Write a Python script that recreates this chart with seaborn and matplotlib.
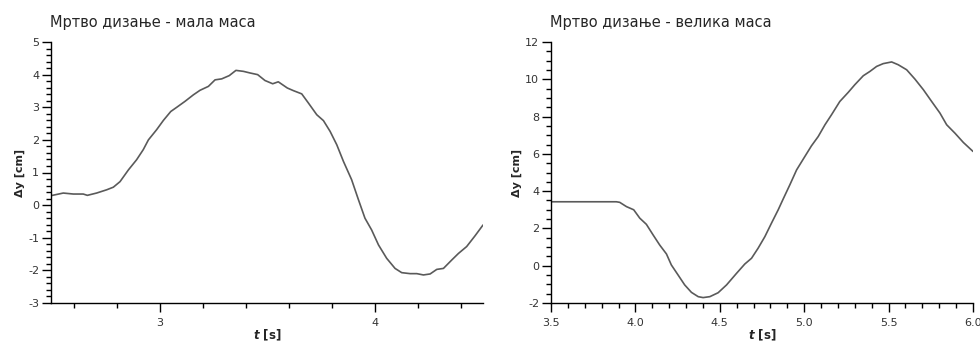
import matplotlib
matplotlib.use("Agg")
import matplotlib.pyplot as plt
import seaborn as sns
import pandas as pd
from matplotlib.ticker import MultipleLocator, FormatStrFormatter

sns.set_theme(style="ticks")
plt.rcParams['font.family'] = ['DejaVu Sans']
plt.rcParams['axes.unicode_minus'] = False

# Left panel: small mass
t_small = [2.493, 2.55, 2.597, 2.643, 2.662, 2.705, 2.752, 2.783, 2.814, 2.853, 2.891, 2.922,
           2.946, 2.984, 3.016, 3.05, 3.078, 3.116, 3.155, 3.186, 3.225, 3.256, 3.287, 3.322,
           3.353, 3.388, 3.419, 3.454, 3.488, 3.524, 3.55, 3.592, 3.62, 3.659, 3.69, 3.729,
           3.76, 3.791, 3.822, 3.853, 3.891, 3.922, 3.953, 3.984, 4.016, 4.054, 4.093, 4.124,
           4.163, 4.194, 4.225, 4.256, 4.287, 4.318, 4.357, 4.388, 4.426, 4.465, 4.502]
dy_small = [0.29, 0.37, 0.34, 0.34, 0.30, 0.37, 0.47, 0.55, 0.72, 1.08, 1.39, 1.70,
            2.00, 2.31, 2.60, 2.87, 3.00, 3.18, 3.38, 3.52, 3.64, 3.84, 3.87, 3.97,
            4.13, 4.10, 4.05, 4.00, 3.82, 3.72, 3.78, 3.59, 3.51, 3.41, 3.13, 2.77,
            2.59, 2.26, 1.85, 1.34, 0.78, 0.18, -0.40, -0.76, -1.22, -1.63, -1.94, -2.07,
            -2.10, -2.10, -2.14, -2.11, -1.97, -1.94, -1.68, -1.48, -1.27, -0.94, -0.61]

# Right panel: large mass
t_large = [3.5, 3.7, 3.887, 3.907, 3.947, 3.99, 4.026, 4.065, 4.105, 4.144, 4.184, 4.213,
           4.253, 4.292, 4.332, 4.372, 4.401, 4.441, 4.49, 4.54, 4.599, 4.648, 4.688, 4.727,
           4.767, 4.806, 4.846, 4.875, 4.915, 4.955, 5.004, 5.043, 5.083, 5.123, 5.162, 5.211,
           5.261, 5.3, 5.35, 5.389, 5.429, 5.468, 5.518, 5.557, 5.607, 5.656, 5.706, 5.755,
           5.804, 5.844, 5.893, 5.943, 6.0]
dy_large = [3.43, 3.43, 3.43, 3.40, 3.17, 3.00, 2.55, 2.22, 1.65, 1.11, 0.63, 0.04,
            -0.50, -1.03, -1.43, -1.66, -1.71, -1.66, -1.45, -1.03, -0.41, 0.09, 0.40, 0.94,
            1.56, 2.28, 3.00, 3.57, 4.34, 5.14, 5.86, 6.43, 6.93, 7.56, 8.10, 8.81,
            9.30, 9.71, 10.19, 10.42, 10.69, 10.84, 10.93, 10.78, 10.51, 10.01, 9.44, 8.81,
            8.19, 7.56, 7.11, 6.61, 6.13]

titles = ["Мртво дизање - мала маса", "Мртво дизање - велика маса"]

fig = plt.figure(figsize=(9.8, 3.45), dpi=100)
ax1 = fig.add_axes([51/980, 1-303/345, 432/980, 261/345])
ax2 = fig.add_axes([551/980, 1-303/345, 422/980, 261/345])

line_color = "#5a5a5a"
df1 = pd.DataFrame({"t": t_small, "dy": dy_small})
df2 = pd.DataFrame({"t": t_large, "dy": dy_large})
sns.lineplot(data=df1, x="t", y="dy", ax=ax1, color=line_color, lw=1.2)
sns.lineplot(data=df2, x="t", y="dy", ax=ax2, color=line_color, lw=1.2)

ax1.set_xlim(2.493, 4.502)
ax1.set_ylim(-3, 5)
ax1.xaxis.set_major_locator(MultipleLocator(1))
ax1.xaxis.set_minor_locator(MultipleLocator(0.2))
ax1.yaxis.set_major_locator(MultipleLocator(1))
ax1.yaxis.set_minor_locator(MultipleLocator(0.2))

ax2.set_xlim(3.5, 6.0)
ax2.set_ylim(-2, 12)
ax2.xaxis.set_major_locator(MultipleLocator(0.5))
ax2.xaxis.set_minor_locator(MultipleLocator(0.1))
ax2.yaxis.set_major_locator(MultipleLocator(2))
ax2.yaxis.set_minor_locator(MultipleLocator(0.5))
ax2.xaxis.set_major_formatter(FormatStrFormatter("%.1f"))

for ax, title in zip([ax1, ax2], titles):
    for s in ["top", "right"]:
        ax.spines[s].set_visible(False)
    for s in ["left", "bottom"]:
        ax.spines[s].set_color("black")
        ax.spines[s].set_linewidth(1.0)
    ax.tick_params(which="major", length=6.5, width=1, color="black", labelsize=8,
                   labelcolor="#333333")
    ax.tick_params(axis="x", which="major", pad=4)
    ax.tick_params(axis="y", which="major", pad=2)
    ax.tick_params(which="minor", length=3.5, width=1, color="black")
    ax.set_title(title, loc="left", fontsize=10.5, pad=11, x=-0.002)
    ax.set_ylabel("Δy [cm]", fontsize=8, fontweight="bold", labelpad=2)
    ax.set_xlabel(r"$\mathbfit{t}$ [s]", fontsize=8.5, fontweight="bold", labelpad=0)

fig.savefig("out.png", dpi=100)
